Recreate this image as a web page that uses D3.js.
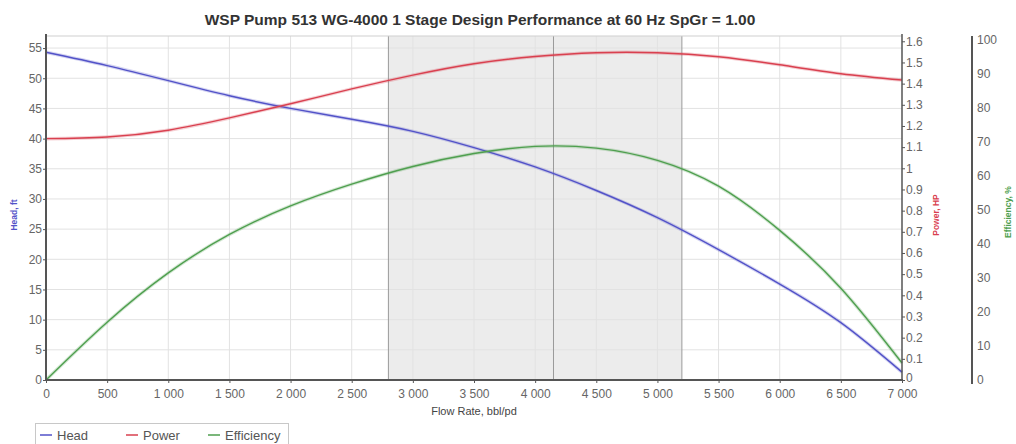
<!DOCTYPE html>
<html>
<head>
<meta charset="utf-8">
<script src="https://cdn.jsdelivr.net/npm/d3@7"></script>
<style>
body { margin: 0; background: #fff; }
text { font-family: "Liberation Sans", Arial, sans-serif; }
.tick text { fill: #666; font-size: 12px; }
</style>
</head>
<body>
<svg id="chart" width="1016" height="444"></svg>
<script>
// flow rate, bbl/pd
var flow = [0, 500, 1000, 1500, 2000, 2500, 3000, 3500, 4000, 4500, 5000, 5500, 6000, 6500, 7000];
var head = [54.3, 52.1, 49.6, 47.1, 45.0, 43.2, 41.2, 38.5, 35.3, 31.4, 26.9, 21.6, 15.9, 9.5, 1.3];
var power = [1.140, 1.148, 1.180, 1.238, 1.305, 1.375, 1.440, 1.494, 1.528, 1.546, 1.546, 1.527, 1.489, 1.447, 1.417];
var efficiency = [0, 17.0, 31.5, 42.8, 51.2, 57.6, 62.8, 66.6, 68.7, 68.2, 64.6, 57.0, 44.0, 27.0, 5.0];

var rangeMin = 2800, rangeMax = 5200, bep = 4150;
var xTicks = [0, 500, 1000, 1500, 2000, 2500, 3000, 3500, 4000, 4500, 5000, 5500, 6000, 6500, 7000];
var headTicks = [0, 5, 10, 15, 20, 25, 30, 35, 40, 45, 50, 55];
var powerTicks = [0, 0.1, 0.2, 0.3, 0.4, 0.5, 0.6, 0.7, 0.8, 0.9, 1, 1.1, 1.2, 1.3, 1.4, 1.5, 1.6];
var effTicks = [0, 10, 20, 30, 40, 50, 60, 70, 80, 90, 100];

var cHead = "#5252c8", cPower = "#d9404f", cEff = "#4f9f4f";

var svg = d3.select("#chart");
var pLeft = 46, pRight = 902, pTop = 36, pBottom = 380, effX = 972;

var locale = d3.formatLocale({decimal: ".", thousands: "\u00a0", grouping: [3], currency: ["", ""]});
var fmtX = locale.format(",d");

var x = d3.scaleLinear().domain([0, 7000]).range([pLeft, pRight]);
var yHead = d3.scaleLinear().domain([0, 57]).range([pBottom, pTop]);
var yPow = d3.scaleLinear().domain([0, 1.625]).range([pBottom, pTop]);
var yEff = d3.scaleLinear().domain([0, 100]).range([pBottom, 40]);

// shaded operating range
svg.append("rect")
    .attr("x", x(rangeMin)).attr("y", pTop)
    .attr("width", x(rangeMax) - x(rangeMin))
    .attr("height", pBottom - pTop)
    .attr("fill", "#ececec");

// grid
svg.append("g").selectAll("line")
    .data(xTicks.slice(1, -1))
    .enter().append("line")
    .attr("x1", d => x(d)).attr("x2", d => x(d))
    .attr("y1", pTop).attr("y2", pBottom)
    .attr("stroke", "#e2e2e2").attr("stroke-width", 1);
svg.append("g").selectAll("line")
    .data(headTicks.slice(1))
    .enter().append("line")
    .attr("x1", pLeft).attr("x2", pRight)
    .attr("y1", d => yHead(d)).attr("y2", d => yHead(d))
    .attr("stroke", "#e2e2e2").attr("stroke-width", 1);

// range boundaries and BEP
svg.append("g").selectAll("line")
    .data([rangeMin, bep, rangeMax])
    .enter().append("line")
    .attr("x1", d => x(d)).attr("x2", d => x(d))
    .attr("y1", pTop).attr("y2", pBottom)
    .attr("stroke", "#9a9a9a").attr("stroke-width", 1);

// plot border top
svg.append("line")
    .attr("x1", pLeft).attr("x2", pRight).attr("y1", pTop).attr("y2", pTop)
    .attr("stroke", "#cfcfcf");

// curves
function drawCurve(vals, yScale, color){
    var pts = flow.map((f, i) => [f, vals[i]]);
    var line = d3.line()
        .x(d => x(d[0]))
        .y(d => yScale(d[1]))
        .curve(d3.curveNatural);
    svg.append("path")
        .datum(pts)
        .attr("d", line)
        .attr("fill", "none")
        .attr("stroke", color)
        .attr("stroke-opacity", 0.25)
        .attr("stroke-width", 3.5);
    svg.append("path")
        .datum(pts)
        .attr("d", line)
        .attr("fill", "none")
        .attr("stroke", color)
        .attr("stroke-width", 1.4);
}
drawCurve(head, yHead, cHead);
drawCurve(power, yPow, cPower);
drawCurve(efficiency, yEff, cEff);

// axes
var gx = svg.append("g")
    .attr("transform", "translate(0," + pBottom + ")")
    .call(d3.axisBottom(x).tickValues(xTicks).tickFormat(fmtX).tickSize(3).tickPadding(6));
var gl = svg.append("g")
    .attr("transform", "translate(" + pLeft + ",0)")
    .call(d3.axisLeft(yHead).tickValues(headTicks).tickSize(3).tickPadding(1));
var gp = svg.append("g")
    .attr("transform", "translate(" + pRight + ",0)")
    .call(d3.axisRight(yPow).tickValues(powerTicks).tickFormat(d3.format("~g")).tickSize(3).tickPadding(1));
var ge = svg.append("g")
    .attr("transform", "translate(" + effX + ",0)")
    .call(d3.axisRight(yEff).tickValues(effTicks).tickSize(0).tickPadding(5));

[gx, gl, gp, ge].forEach(g => {
    g.selectAll(".domain").remove();
    g.selectAll(".tick line").attr("stroke", "#555");
});
// lift the power zero label a little, clear of "7 000"
gp.selectAll(".tick text").filter(d => d === 0).attr("dy", "0.1em");

svg.append("line").attr("x1", pLeft - 1).attr("x2", pRight + 1).attr("y1", pBottom).attr("y2", pBottom)
    .attr("stroke", "#555").attr("stroke-width", 2);
svg.append("line").attr("x1", pLeft).attr("x2", pLeft).attr("y1", pTop - 2).attr("y2", pBottom + 1)
    .attr("stroke", "#555").attr("stroke-width", 2);
svg.append("line").attr("x1", pRight).attr("x2", pRight).attr("y1", pTop - 2).attr("y2", pBottom + 1)
    .attr("stroke", "#555").attr("stroke-width", 1.5);
svg.append("line").attr("x1", effX).attr("x2", effX).attr("y1", pTop).attr("y2", pBottom + 4)
    .attr("stroke", "#555").attr("stroke-width", 2);

// titles
svg.append("text")
    .attr("x", 480).attr("y", 25)
    .attr("text-anchor", "middle")
    .attr("font-size", "15.5px").attr("font-weight", "bold").attr("fill", "#333")
    .text("WSP Pump 513 WG-4000 1 Stage Design Performance at 60 Hz SpGr = 1.00");

svg.append("text")
    .attr("x", 474).attr("y", 415)
    .attr("text-anchor", "middle")
    .attr("font-size", "11px").attr("fill", "#444")
    .text("Flow Rate, bbl/pd");

function axisTitle(txt, xx, yy, color){
    svg.append("text")
        .attr("transform", "translate(" + xx + "," + yy + ") rotate(-90)")
        .attr("text-anchor", "middle")
        .attr("font-size", "8.5px").attr("font-weight", "bold").attr("fill", color)
        .text(txt);
}
axisTitle("Head, ft", 17, 215, cHead);
axisTitle("Power, HP", 939, 215, cPower);
axisTitle("Efficiency, %", 1011, 212, cEff);

// legend
var legend = svg.append("g");
legend.append("rect")
    .attr("x", 35.5).attr("y", 423.5).attr("width", 253).attr("height", 22)
    .attr("fill", "#fff").attr("stroke", "#c8c8c8");
var items = [["Head", cHead, 40], ["Power", cPower, 126], ["Efficiency", cEff, 208]];
items.forEach(it => {
    legend.append("line")
        .attr("x1", it[2]).attr("x2", it[2] + 12)
        .attr("y1", 435).attr("y2", 435)
        .attr("stroke", it[1]).attr("stroke-width", 1.5);
    legend.append("text")
        .attr("x", it[2] + 17).attr("y", 440)
        .attr("font-size", "13px").attr("fill", "#555")
        .text(it[0]);
});
</script>
</body>
</html>
